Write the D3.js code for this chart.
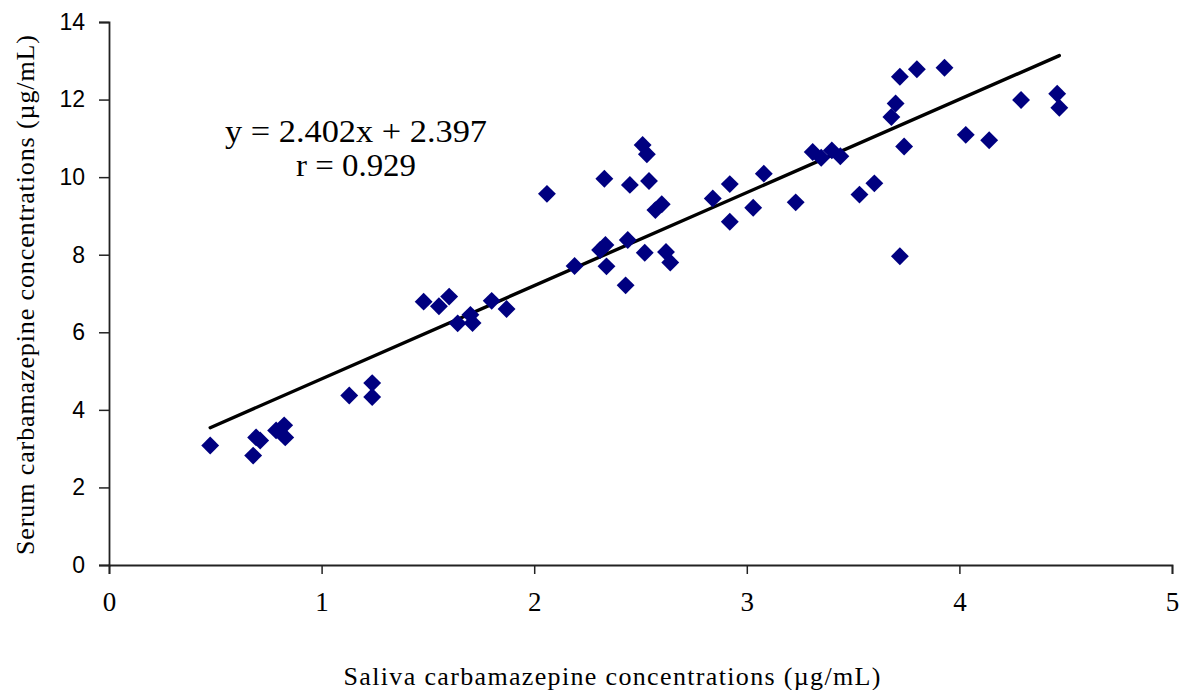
<!DOCTYPE html>
<html>
<head>
<meta charset="utf-8">
<script src="https://cdn.jsdelivr.net/npm/d3@7"></script>
<style>
  body { margin: 0; background: #fff; }
</style>
</head>
<body>
<div id="chart"></div>
<script>
// saliva (x) vs serum (y) carbamazepine concentrations
const saliva = [0.476, 0.678, 0.692, 0.711, 0.786, 0.824, 0.829, 1.13, 1.238, 1.238,
  1.48, 1.552, 1.60, 1.64, 1.70, 1.71, 1.80, 1.87, 2.06, 2.19,
  2.31, 2.335, 2.34, 2.33, 2.43, 2.44, 2.45, 2.52, 2.51, 2.53,
  2.54, 2.57, 2.60, 2.62, 2.64, 2.84, 2.92, 2.92, 3.03, 3.08,
  3.23, 3.31, 3.35, 3.40, 3.44, 3.53, 3.60, 3.72, 3.68, 3.70,
  3.72, 3.74, 3.80, 3.93, 4.03, 4.14, 4.29, 4.46, 4.47]
const serum = [3.08, 2.82, 3.29, 3.21, 3.47, 3.60, 3.29, 4.37, 4.69, 4.33,
  6.79, 6.67, 6.92, 6.23, 6.45, 6.24, 6.81, 6.60, 9.57, 7.71,
  8.12, 8.25, 7.70, 9.96, 7.21, 8.38, 9.80, 8.05, 10.83, 10.59,
  9.90, 9.15, 9.30, 8.07, 7.80, 9.45, 9.82, 8.85, 9.21, 10.09,
  9.35, 10.65, 10.50, 10.69, 10.54, 9.55, 9.84, 7.96, 11.55, 11.90,
  12.59, 10.79, 12.78, 12.82, 11.09, 10.95, 11.99, 12.15, 11.79]

const slope = 2.402
const intercept = 2.397
const eqLines = ["y = 2.402x + 2.397", "r = 0.929"]

const xTicks = [0, 1, 2, 3, 4, 5]
const yTicks = [0, 2, 4, 6, 8, 10, 12, 14]

const W = 1181, H = 690
const margin = {top: 22, right: 9, bottom: 125, left: 109}

const svg = d3.select("#chart").append("svg")
  .attr("width", W)
  .attr("height", H)

const x = d3.scaleLinear().domain([0, 5]).range([margin.left, W - margin.right])
const y = d3.scaleLinear().domain([0, 14]).range([H - margin.bottom, margin.top])

const serif = "'Liberation Serif', 'Times New Roman', serif"

// axes
const xAxis = svg.append("g")
  .attr("transform", "translate(0," + y(0) + ")")
  .call(d3.axisBottom(x).tickValues(xTicks).tickSize(9).tickPadding(18).tickFormat(d3.format("d")))
const yAxis = svg.append("g")
  .attr("transform", "translate(" + x(0) + ",0)")
  .call(d3.axisLeft(y).tickValues(yTicks).tickSize(10).tickPadding(14).tickFormat(d3.format("d")))

;[xAxis, yAxis].forEach(g => {
  g.select(".domain").attr("stroke", "#222").attr("stroke-width", 1.8)
  g.selectAll(".tick line").attr("stroke", "#222").attr("stroke-width", 1.5)
  g.selectAll(".tick text").attr("fill", "#000")
})
xAxis.selectAll(".tick text")
  .style("font-family", serif)
  .style("font-size", "27px")
yAxis.selectAll(".tick text")
  .style("font-family", "'Liberation Sans', Arial, sans-serif")
  .style("font-size", "23px")

// trend line across the data range
const xr = d3.extent(saliva)
svg.append("path")
  .datum(xr)
  .attr("fill", "none")
  .attr("stroke", "#000")
  .attr("stroke-width", 3.4)
  .attr("stroke-linecap", "round")
  .attr("d", d3.line().x(d => x(d)).y(d => y(intercept + slope * d)))

// points
const diamond = d3.symbol().type(d3.symbolSquare).size(160)
svg.append("g")
  .selectAll("path")
  .data(saliva.map((s, i) => ({s, v: serum[i]})))
  .join("path")
  .attr("d", diamond)
  .attr("fill", "#000080")
  .attr("transform", d => "translate(" + x(d.s) + "," + y(d.v) + ") rotate(45)")

// equation
const eqWidths = [262, 120]
svg.append("g")
  .selectAll("text")
  .data(eqLines)
  .join("text")
  .attr("x", 356)
  .attr("y", (d, i) => 142 + i * 34)
  .attr("text-anchor", "middle")
  .attr("textLength", (d, i) => eqWidths[i])
  .attr("lengthAdjust", "spacingAndGlyphs")
  .style("font-family", serif)
  .style("font-size", "31px")
  .text(d => d)

// axis titles
svg.append("text")
  .attr("x", 612)
  .attr("y", 685)
  .attr("text-anchor", "middle")
  .attr("textLength", 537)
  .attr("lengthAdjust", "spacing")
  .style("font-family", serif)
  .style("font-size", "26px")
  .text("Saliva carbamazepine concentrations (µg/mL)")

svg.append("text")
  .attr("transform", "translate(34,295) rotate(-90)")
  .attr("text-anchor", "middle")
  .attr("textLength", 520)
  .attr("lengthAdjust", "spacing")
  .style("font-family", serif)
  .style("font-size", "26px")
  .text("Serum carbamazepine concentrations (µg/mL)")
</script>
</body>
</html>
